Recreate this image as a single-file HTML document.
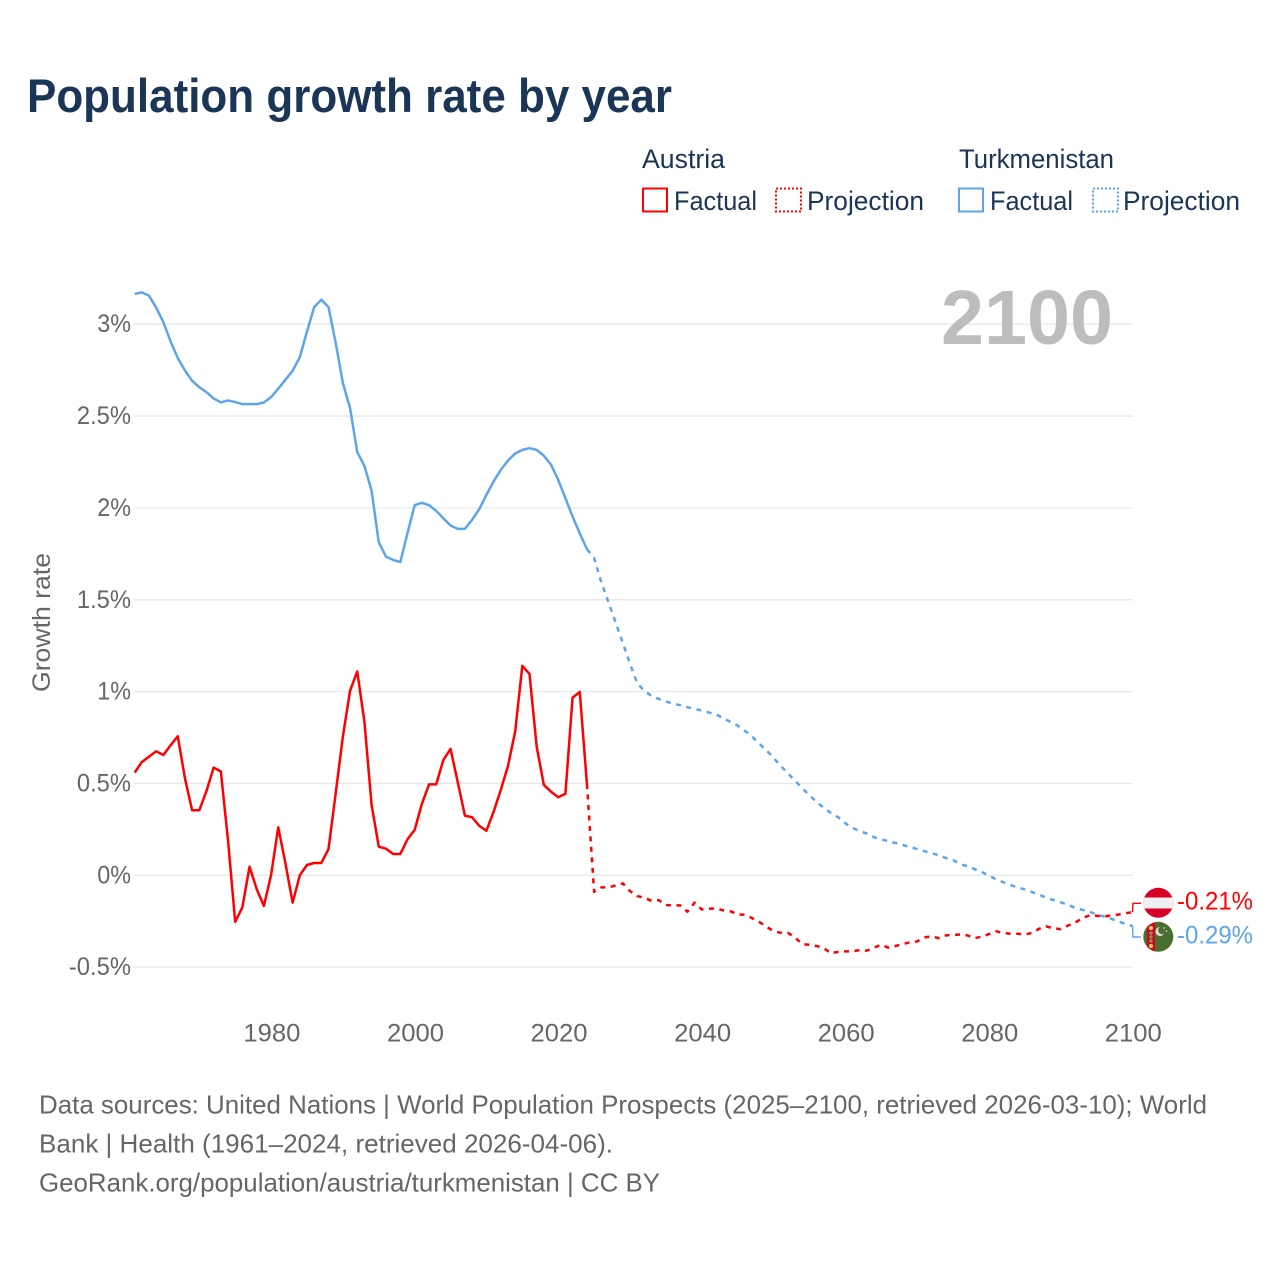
<!DOCTYPE html>
<html lang="en">
<head>
<meta charset="utf-8">
<title>Population growth rate by year</title>
<style>
html,body{margin:0;padding:0;background:#fff}
svg{display:block}
text{font-family:"Liberation Sans",sans-serif}
</style>
</head>
<body>
<svg id="chart" xmlns="http://www.w3.org/2000/svg" width="1280" height="1280" viewBox="0 0 1280 1280">
  <rect width="1280" height="1280" fill="#fff"/>
  <text x="27" y="112" font-size="47" font-weight="700" fill="#1a3556" textLength="645" lengthAdjust="spacingAndGlyphs">Population growth rate by year</text>

  <g font-size="27" fill="#1a3556">
    <text x="642" y="168" textLength="83" lengthAdjust="spacingAndGlyphs">Austria</text>
    <rect x="643" y="188.5" width="24" height="23" fill="none" stroke="#ff0000" stroke-width="2"/>
    <text x="674" y="210" textLength="83" lengthAdjust="spacingAndGlyphs">Factual</text>
    <rect x="776" y="188.5" width="25" height="23" fill="none" stroke="#ff0000" stroke-width="2" stroke-dasharray="2 2"/>
    <text x="807" y="210" textLength="117" lengthAdjust="spacingAndGlyphs">Projection</text>
    <text x="959" y="168" textLength="155" lengthAdjust="spacingAndGlyphs">Turkmenistan</text>
    <rect x="959" y="188.5" width="24" height="23" fill="none" stroke="#5da5ea" stroke-width="2"/>
    <text x="990" y="210" textLength="83" lengthAdjust="spacingAndGlyphs">Factual</text>
    <rect x="1093" y="188.5" width="25" height="23" fill="none" stroke="#5da5ea" stroke-width="2" stroke-dasharray="2 2"/>
    <text x="1123" y="210" textLength="117" lengthAdjust="spacingAndGlyphs">Projection</text>
  </g>

  <g id="grid"></g>
  <g id="y-labels"></g>
  <g id="x-labels"></g>
  <text transform="translate(50,692) rotate(-90)" font-size="25" fill="#666" textLength="139" lengthAdjust="spacingAndGlyphs">Growth rate</text>
  <text x="941" y="344" font-size="77" font-weight="700" fill="#bdbdbd" textLength="172" lengthAdjust="spacingAndGlyphs">2100</text>

  <g id="series"></g>

  <defs>
    <clipPath id="clip-at"><circle cx="1158.3" cy="902.8" r="15"/></clipPath>
    <clipPath id="clip-tm"><circle cx="1158.3" cy="936.8" r="15"/></clipPath>
  </defs>
  <g clip-path="url(#clip-at)">
    <rect x="1143" y="887" width="31" height="32" fill="#d80027"/>
    <rect x="1143" y="897.5" width="31" height="11" fill="#f0f0f0"/>
  </g>
  <g clip-path="url(#clip-tm)">
    <rect x="1143" y="921" width="31" height="32" fill="#496e2d"/>
    <rect x="1147" y="921" width="8" height="32" fill="#d80027"/>
    <circle cx="1151" cy="928" r="2" fill="#ffda44"/>
    <circle cx="1151" cy="933" r="1.7" fill="#6da544"/>
    <circle cx="1151" cy="937" r="1.7" fill="#6da544"/>
    <circle cx="1151" cy="941" r="1.7" fill="#6da544"/>
    <circle cx="1151" cy="946" r="2" fill="#ffda44"/>
    <path d="M1160 927a4.5 4.5 0 1 0 4 6.5a3.8 3.8 0 1 1-4-6.5z" fill="#d8dfd0"/>
    <circle cx="1164" cy="928" r="0.8" fill="#f0f0f0"/>
    <circle cx="1166.5" cy="931" r="0.8" fill="#f0f0f0"/>
  </g>
  <g id="end-labels"></g>

  <g font-size="25.6" fill="#666">
    <text x="39" y="1113.5" textLength="1168" lengthAdjust="spacingAndGlyphs">Data sources: United Nations | World Population Prospects (2025–2100, retrieved 2026-03-10); World</text>
    <text x="39" y="1152.5" textLength="574" lengthAdjust="spacingAndGlyphs">Bank | Health (1961–2024, retrieved 2026-04-06).</text>
    <text x="39" y="1191.5" textLength="621" lengthAdjust="spacingAndGlyphs">GeoRank.org/population/austria/turkmenistan | CC BY</text>
  </g>
</svg>
<script>
const factualYears = [1961,1962,1963,1964,1965,1966,1967,1968,1969,1970,
  1971,1972,1973,1974,1975,1976,1977,1978,1979,1980,
  1981,1982,1983,1984,1985,1986,1987,1988,1989,1990,
  1991,1992,1993,1994,1995,1996,1997,1998,1999,2000,
  2001,2002,2003,2004,2005,2006,2007,2008,2009,2010,
  2011,2012,2013,2014,2015,2016,2017,2018,2019,2020,
  2021,2022,2023,2024];
const projectionYears = [2025,2026,2027,2028,2029,2030,
  2031,2032,2033,2034,2035,2036,2037,2038,2039,2040,
  2041,2042,2043,2044,2045,2046,2047,2048,2049,2050,
  2051,2052,2053,2054,2055,2056,2057,2058,2059,2060,
  2061,2062,2063,2064,2065,2066,2067,2068,2069,2070,
  2071,2072,2073,2074,2075,2076,2077,2078,2079,2080,
  2081,2082,2083,2084,2085,2086,2087,2088,2089,2090,
  2091,2092,2093,2094,2095,2096,2097,2098,2099,2100];
const austriaFactual = [.559,.617,.646,.675,.655,.708,.757,.528,.354,.354,
  .459,.586,.566,.19,-.253,-.174,.047,-.076,-.167,.002,
  .261,.065,-.149,0,.056,.067,.067,.143,.447,.755,
  1.005,1.109,.837,.383,.156,.145,.116,.116,.196,.247,
  .388,.495,.495,.628,.688,.507,.325,.316,.269,.243,
  .346,.465,.595,.782,1.14,1.096,.7,.492,.455,.425,
  .444,.967,.998,.497];
const austriaProjection = [-.09,-.066,-.066,-.055,-.044,-.086,
  -.113,-.122,-.139,-.135,-.162,-.164,-.164,-.198,-.149,-.186,
  -.182,-.18,-.191,-.196,-.213,-.215,-.233,-.254,-.28,-.304,
  -.313,-.313,-.339,-.375,-.378,-.385,-.396,-.425,-.416,-.414,
  -.414,-.407,-.41,-.394,-.378,-.394,-.385,-.374,-.365,-.36,
  -.338,-.333,-.342,-.327,-.325,-.322,-.327,-.342,-.334,-.32,
  -.305,-.314,-.318,-.318,-.323,-.313,-.291,-.278,-.289,-.293,
  -.274,-.258,-.234,-.218,-.22,-.225,-.218,-.214,-.207,-.2];
const turkmenistanFactual = [3.165,3.173,3.155,3.09,3.01,2.906,2.816,2.748,2.692,2.657,
  2.63,2.596,2.574,2.585,2.576,2.565,2.565,2.565,2.574,2.603,
  2.649,2.698,2.747,2.82,2.96,3.093,3.133,3.093,2.898,2.68,
  2.544,2.304,2.229,2.094,1.813,1.735,1.717,1.705,1.862,2.015,
  2.028,2.015,1.984,1.944,1.904,1.886,1.886,1.935,1.993,2.071,
  2.144,2.207,2.258,2.296,2.316,2.325,2.316,2.284,2.235,2.153,
  2.053,1.953,1.862,1.775];
const turkmenistanProjection = [1.728,1.596,1.487,1.376,1.264,1.151,
  1.046,1.004,.977,.96,.946,.935,.926,.915,.906,.897,
  .886,.875,.855,.835,.815,.786,.755,.717,.681,.639,
  .595,.555,.514,.474,.436,.399,.367,.339,.316,.283,
  .258,.241,.227,.207,.196,.185,.176,.165,.154,.143,
  .132,.12,.11,.094,.083,.061,.049,.034,.018,-.002,
  -.022,-.038,-.053,-.066,-.077,-.091,-.106,-.122,-.135,-.147,
  -.16,-.177,-.188,-.198,-.213,-.224,-.236,-.251,-.264,-.276];
const yTicks = [-0.5,0,0.5,1,1.5,2,2.5,3];
const xTicks = [1980,2000,2020,2040,2060,2080,2100];
const endLabelTexts = ["-0.21%","-0.29%"];

const NS = "http://www.w3.org/2000/svg";
const RED = "#ff0000";
const BLUE = "#5da5ea";
function xScale(year){ return 134.7 + (year - 1961) * (1132.5 - 134.7) / (2100 - 1961); }
function yScale(v){ return 875.3 - v * 183.7; }
function labelWidth(s){
  let w = 0;
  for (const c of s) w += c === "." ? 6 : c === "%" ? 19.5 : c === "-" ? 8 : 14.3;
  return w;
}
function pathFrom(xs, ys){
  return xs.map(function(x,i){ return (i ? "L" : "M") + xScale(x).toFixed(2) + " " + yScale(ys[i]).toFixed(2); }).join(" ");
}

const grid = document.getElementById("grid");
const yLabels = document.getElementById("y-labels");
yTicks.forEach(function(t){
  const line = document.createElementNS(NS,"line");
  
  
  line.setAttribute("x1",134);
  line.setAttribute("x2",1133);
  line.setAttribute("y1",yScale(t));
  line.setAttribute("y2",yScale(t));
  line.setAttribute("stroke","#e8e8e8");
  line.setAttribute("stroke-width",1.3);
  grid.appendChild(line);
  const s = t + "%";
  const label = document.createElementNS(NS,"text");
  
  
  const w = labelWidth(s);
  label.setAttribute("x",131 - w);
  label.setAttribute("y",yScale(t) + 8);
  label.setAttribute("font-size",25);
  label.setAttribute("fill","#666");
  label.setAttribute("textLength",w);
  label.setAttribute("lengthAdjust","spacingAndGlyphs");
  label.textContent = s;
  yLabels.appendChild(label);
});

const xLabels = document.getElementById("x-labels");
xTicks.forEach(function(t){
  const label = document.createElementNS(NS,"text");
  
  
  label.setAttribute("x",xScale(t) + 0.8 - 28.5);
  label.setAttribute("y",1041.5);
  label.setAttribute("font-size",25);
  label.setAttribute("fill","#666");
  label.setAttribute("textLength",57);
  label.setAttribute("lengthAdjust","spacingAndGlyphs");
  label.textContent = String(t);
  xLabels.appendChild(label);
});

const seriesGroup = document.getElementById("series");
function addLine(d, color, dashed, name){
  const p = document.createElementNS(NS,"path");
  
  
  p.setAttribute("d",d);
  p.setAttribute("fill","none");
  p.setAttribute("stroke",color);
  p.setAttribute("stroke-width",2.5);
  p.setAttribute("stroke-linejoin","round");
  if (dashed) p.setAttribute("stroke-dasharray","5 5.5");
  seriesGroup.appendChild(p);
}
const lastF = factualYears.length - 1;
addLine(pathFrom(factualYears, turkmenistanFactual), BLUE, false, "turkmenistan-factual-line");
addLine(pathFrom([factualYears[lastF]].concat(projectionYears), [turkmenistanFactual[lastF]].concat(turkmenistanProjection)), BLUE, true, "turkmenistan-projection-line");
addLine(pathFrom(factualYears, austriaFactual), RED, false, "austria-factual-line");
addLine(pathFrom([factualYears[lastF]].concat(projectionYears), [austriaFactual[lastF]].concat(austriaProjection)), RED, true, "austria-projection-line");

const endGroup = document.getElementById("end-labels");
const endX = xScale(2100);
const austriaEndY = yScale(austriaProjection[austriaProjection.length - 1]);
const turkmenistanEndY = yScale(turkmenistanProjection[turkmenistanProjection.length - 1]);
const austriaConnector = document.createElementNS(NS,"path");


austriaConnector.setAttribute("d","M" + endX + " " + austriaEndY + " L1133 903.3 L1141 903.3");
austriaConnector.setAttribute("fill","none");
austriaConnector.setAttribute("stroke",RED);
austriaConnector.setAttribute("stroke-width",1.4);
endGroup.appendChild(austriaConnector);
const turkmenistanConnector = document.createElementNS(NS,"path");


turkmenistanConnector.setAttribute("d","M" + endX + " " + turkmenistanEndY + " L1133 937 L1141 937");
turkmenistanConnector.setAttribute("fill","none");
turkmenistanConnector.setAttribute("stroke",BLUE);
turkmenistanConnector.setAttribute("stroke-width",1.4);
endGroup.appendChild(turkmenistanConnector);

const austriaEndLabel = document.createElementNS(NS,"text");


austriaEndLabel.setAttribute("x",1177);
austriaEndLabel.setAttribute("y",909.5);
austriaEndLabel.setAttribute("font-size",25);
austriaEndLabel.setAttribute("fill",RED);
austriaEndLabel.setAttribute("textLength",76);
austriaEndLabel.setAttribute("lengthAdjust","spacingAndGlyphs");
austriaEndLabel.textContent = endLabelTexts[0];
endGroup.appendChild(austriaEndLabel);
const turkmenistanEndLabel = document.createElementNS(NS,"text");


turkmenistanEndLabel.setAttribute("x",1177);
turkmenistanEndLabel.setAttribute("y",943.5);
turkmenistanEndLabel.setAttribute("font-size",25);
turkmenistanEndLabel.setAttribute("fill",BLUE);
turkmenistanEndLabel.setAttribute("textLength",76);
turkmenistanEndLabel.setAttribute("lengthAdjust","spacingAndGlyphs");
turkmenistanEndLabel.textContent = endLabelTexts[1];
endGroup.appendChild(turkmenistanEndLabel);
</script>
</body>
</html>
